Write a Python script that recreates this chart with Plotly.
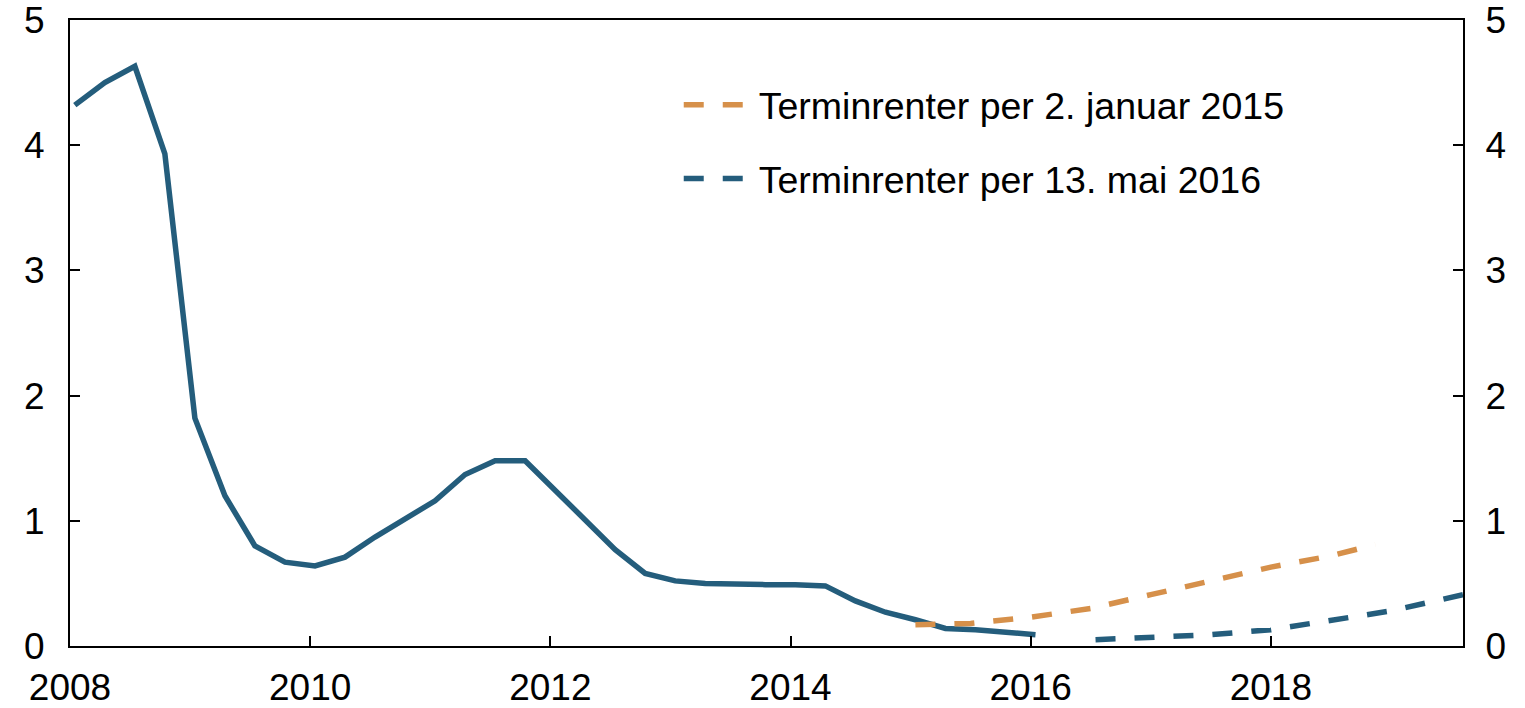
import plotly.graph_objects as go

# Main policy-rate series (quarterly), decimal years
hist_x = [2008.04 + 0.25 * i for i in range(33)]
hist_y = [4.32, 4.50, 4.63, 3.93, 1.82, 1.20, 0.80, 0.67, 0.64, 0.71, 0.87, 1.02,
          1.16, 1.37, 1.48, 1.48, 1.24, 1.00, 0.77, 0.58, 0.52, 0.50, 0.49, 0.49,
          0.49, 0.48, 0.36, 0.27, 0.21, 0.14, 0.13, 0.11, 0.09]

# Forward rates per 2 January 2015
fw15_x = [2015.04, 2015.5, 2016.0, 2016.5, 2017.0, 2017.5, 2018.0, 2018.5, 2018.87]
fw15_y = [0.17, 0.18, 0.23, 0.30, 0.41, 0.52, 0.63, 0.72, 0.81]

# Forward rates per 13 May 2016
fw16_x = [2016.54, 2017.0, 2017.5, 2018.0, 2018.5, 2019.0, 2019.6]
fw16_y = [0.05, 0.065, 0.09, 0.13, 0.20, 0.28, 0.41]

x_ticks = [2008, 2010, 2012, 2014, 2016, 2018]
y_ticks = [0, 1, 2, 3, 4, 5]

BLUE = "#245D7C"
ORANGE = "#D6904A"
FONT = "Liberation Sans, Arial, sans-serif"

fig = go.Figure()
fig.add_trace(go.Scatter(x=hist_x, y=hist_y, mode="lines", showlegend=False,
                         line=dict(color=BLUE, width=5.5)))
fig.add_trace(go.Scatter(x=fw15_x, y=fw15_y, mode="lines",
                         name="Terminrenter per 2. januar 2015", legendgroup="a",
                         line=dict(color=ORANGE, width=5.5, dash="20px,19px")))
fig.add_trace(go.Scatter(x=fw16_x, y=fw16_y, mode="lines", yaxis="y2",
                         name="Terminrenter per 13. mai 2016", legendgroup="b",
                         line=dict(color=BLUE, width=5.5, dash="20px,19px")))

fig.update_layout(
    width=1525, height=708,
    margin=dict(l=70, r=62, t=20, b=62),
    paper_bgcolor="white", plot_bgcolor="white",
    font=dict(family=FONT, size=37, color="black"),
    xaxis=dict(range=[2008, 2019.6], tickvals=x_ticks, ticktext=[str(t) for t in x_ticks],
               ticks="inside", ticklen=10, tickwidth=2, tickcolor="black",
               showline=True, linecolor="black", linewidth=2, mirror=True,
               showgrid=False, zeroline=False, automargin=False, ticklabelstandoff=8,
               ticklabeloverflow="allow"),
    yaxis=dict(range=[0, 5], tickvals=y_ticks, ticks="inside", ticklen=10, tickwidth=2,
               tickcolor="black", showline=True, linecolor="black", linewidth=2,
               showgrid=False, zeroline=False, ticklabelstandoff=16, automargin=False,
               ticklabeloverflow="allow"),
    yaxis2=dict(range=[0, 5], tickvals=y_ticks, overlaying="y", side="right", matches="y",
                ticks="inside", ticklen=10, tickwidth=2, tickcolor="black",
                showline=True, linecolor="black", linewidth=2,
                showgrid=False, zeroline=False, ticklabelstandoff=13, automargin=False,
                ticklabeloverflow="allow"),
    legend=dict(x=0.437, y=0.914, xanchor="left", yanchor="top",
                font=dict(family=FONT, size=37.5, color="black"),
                itemwidth=70, tracegroupgap=22, traceorder="grouped",
                bgcolor="rgba(0,0,0,0)"),
)

fig.write_html("out.html", config={"displayModeBar": False},
               post_script="document.body.style.margin='0';document.body.style.overflow='hidden';")
